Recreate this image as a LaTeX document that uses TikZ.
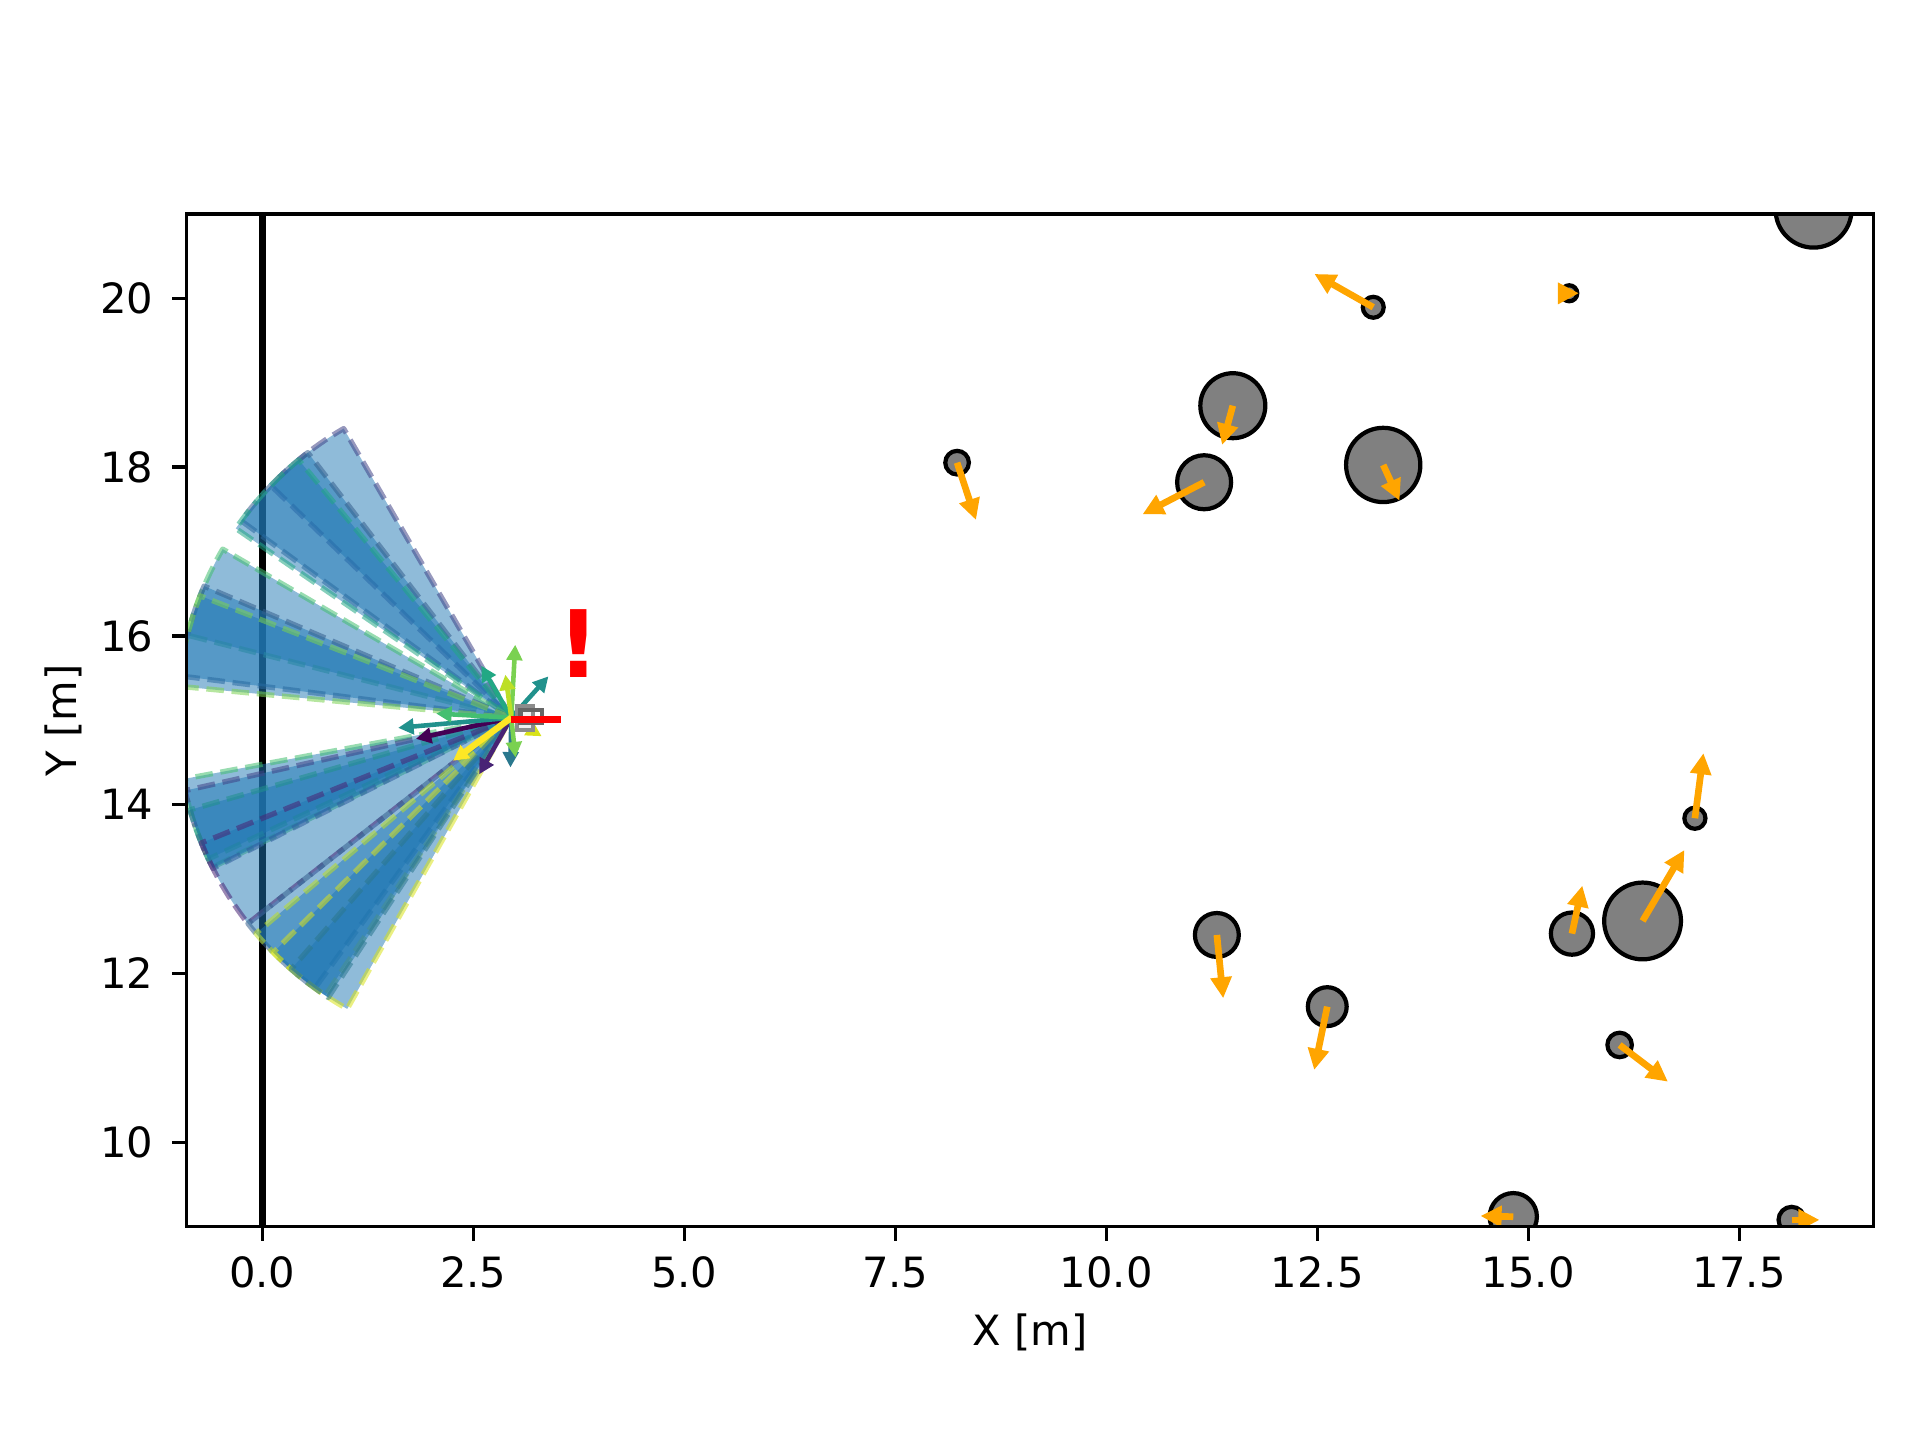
\documentclass[tikz,border=0pt]{standalone}
\usepackage{fontspec}
\setmainfont{DejaVu Sans}
\usetikzlibrary{arrows.meta}
\definecolor{czero}{RGB}{31,119,180}
\definecolor{obsorange}{HTML}{FFA500}
\definecolor{obsgray}{HTML}{808080}
\definecolor{vA}{HTML}{440154}
\definecolor{vB}{HTML}{482475}
\definecolor{vC}{HTML}{414487}
\definecolor{vD}{HTML}{355F8D}
\definecolor{vE}{HTML}{2A788E}
\definecolor{vF}{HTML}{21918C}
\definecolor{vG}{HTML}{22A884}
\definecolor{vH}{HTML}{44BF70}
\definecolor{vI}{HTML}{7AD151}
\definecolor{vJ}{HTML}{BDDF26}
\definecolor{vK}{HTML}{D8E219}
\definecolor{vL}{HTML}{FDE725}
\newcommand{\fanwedge}[3]{\filldraw[wedge, draw=#3] (P) -- ++(#1:3.96) arc[start angle=#1, end angle=#2, radius=3.96] -- cycle;}
\begin{document}
\begin{tikzpicture}[x=0.844cm,y=0.844cm,
  wedge/.style={fill=czero, fill opacity=0.5, draw opacity=0.55, line width=1.5pt, dash pattern=on 5pt off 2.2pt, line join=round},
  obstacle/.style={fill=obsgray, draw=black, line width=1.2pt},
  obsarrow/.style={draw=obsorange, line width=1.9pt, -{Triangle[length=6pt,width=5.8pt]}},
  sensarrow/.style={line width=1.3pt, -{Triangle[length=4.4pt,width=4.4pt]}},
  axline/.style={line width=0.945pt, black},
  ticklabel/.style={font=\fontsize{11.86}{14}\selectfont, inner sep=0pt},
]
\useasboundingbox (-3.1078,6.4727) rectangle (19.641,23.534);
\coordinate (P) at (2.95,15.03);
\begin{scope}
\clip (-0.9,9) rectangle (19.09,21);
% wall
\draw[line width=1.85pt, black] (0,9) -- (0,21);
% upper fan
\fanwedge{120.1}{136.0}{vC}
\fanwedge{127.5}{143.9}{vD}
\fanwedge{129.5}{145.5}{vG}
\fanwedge{149.7}{165.7}{vH}
\fanwedge{156.8}{172.8}{vD}
\fanwedge{158.6}{174.6}{vI}
% lower fan
\fanwedge{190.6}{206.6}{vH}
\fanwedge{192.6}{206.8}{vC}
\fanwedge{196.0}{205.0}{vF}
\fanwedge{202.0}{218.0}{vB}
\fanwedge{218.0}{234.0}{vD}
\fanwedge{220.2}{236.2}{vJ}
\fanwedge{224.6}{240.6}{vK}
\fanwedge{228.8}{236.8}{vE}
% sensor arrows
\draw[sensarrow, vA] (P) -- ++(-1.13,-0.25);
\draw[sensarrow, vB] (P) -- ++(-0.38,-0.67);
\draw[sensarrow, vE] (P) -- ++(-0.01,-0.59);
\draw[sensarrow, vF] (P) -- ++(-1.34,-0.12);
\draw[sensarrow, vF] (P) -- ++(0.44,0.49);
\draw[sensarrow, vG] (P) -- ++(-0.355,0.616);
\draw[sensarrow, vH] (P) -- ++(-0.89,0.05);
\draw[sensarrow, vI] (P) -- ++(0.047,0.865);
\draw[sensarrow, vI] (P) -- ++(0.05,-0.47);
\draw[sensarrow, vJ] (P) -- ++(-0.07,0.51);
\draw[sensarrow, vK] (P) -- ++(0.36,-0.22);
\draw[sensarrow, vL, line width=1.8pt] (P) -- ++(-0.69,-0.51);
% robot
\draw[line width=1.1pt, gray!90, fill=gray!12] (3.014,14.885) rectangle (3.211,15.169);
\draw[line width=1.2pt, black!60] (3.06,14.97) rectangle (3.31,15.12);
\fill[red] (2.943,14.963) rectangle (3.536,15.055);
% obstacles
\coordinate (o1) at (8.232,18.052);  \coordinate (t1) at (8.456,17.373);
\coordinate (o2) at (13.163,19.893); \coordinate (t2) at (12.466,20.288);
\coordinate (o3) at (15.485,20.059); \coordinate (t3) at (15.60,20.06);
\coordinate (o4) at (11.499,18.727); \coordinate (t4) at (11.372,18.262);
\coordinate (o5) at (11.159,17.82);  \coordinate (t5) at (10.43,17.441);
\coordinate (o6) at (13.281,18.025); \coordinate (t6) at (13.474,17.602);
\coordinate (o7) at (18.38,21.05);
\coordinate (o8) at (16.974,13.839); \coordinate (t8) at (17.075,14.61);
\coordinate (o9) at (16.354,12.622); \coordinate (t9) at (16.85,13.463);
\coordinate (o10) at (15.517,12.472); \coordinate (t10) at (15.64,13.04);
\coordinate (o11) at (11.31,12.456); \coordinate (t11) at (11.385,11.706);
\coordinate (o12) at (12.618,11.607); \coordinate (t12) at (12.463,10.857);
\coordinate (o13) at (16.082,11.153); \coordinate (t13) at (16.654,10.718);
\coordinate (o14) at (14.822,9.118); \coordinate (t14) at (14.434,9.127);
\coordinate (o15) at (18.12,9.08);   \coordinate (t15) at (18.45,9.08);
\path[obstacle] (o1) circle[radius=0.14];
\path[obstacle] (o2) circle[radius=0.124];
\path[obstacle] (o3) circle[radius=0.095];
\path[obstacle] (o4) circle[radius=0.385];
\path[obstacle] (o5) circle[radius=0.32];
\path[obstacle] (o6) circle[radius=0.44];
\path[obstacle] (o7) circle[radius=0.45];
\path[obstacle] (o8) circle[radius=0.125];
\path[obstacle] (o9) circle[radius=0.455];
\path[obstacle] (o10) circle[radius=0.25];
\path[obstacle] (o11) circle[radius=0.26];
\path[obstacle] (o12) circle[radius=0.23];
\path[obstacle] (o13) circle[radius=0.145];
\path[obstacle] (o14) circle[radius=0.28];
\path[obstacle] (o15) circle[radius=0.155];
\foreach \k in {1,2,3,4,5,6,8,9,10,11,12,13,14,15} {\draw[obsarrow] (o\k) -- (t\k);}
% warning mark
\node[text=red, font=\fontsize{26.5}{30}\selectfont\bfseries, inner sep=0pt] (warn) at (3.746,15.904) {!};
\end{scope}
% spines
\draw[axline] (-0.9,9) rectangle (19.09,21);
\foreach \xv/\lab [count=\i] in {0/0.0,2.5/2.5,5/5.0,7.5/7.5,10/10.0,12.5/12.5,15/15.0,17.5/17.5} {
  \draw[axline] (\xv,9) -- (\xv,8.827);
  \node[ticklabel, anchor=north] (xt\i) at (\xv,8.653) {\lab};
}
\foreach \yv [count=\i] in {10,12,14,16,18,20} {
  \draw[axline] (-0.9,\yv) -- (-1.073,\yv);
  \node[ticklabel, anchor=east] (yt\i) at (-1.283,\yv) {\yv};
}
\node[ticklabel] (xlab) at (9.096,7.752) {X [m]};
\node[ticklabel, rotate=90] (ylab) at (-2.353,14.998) {Y [m]};
\end{tikzpicture}
\end{document}
